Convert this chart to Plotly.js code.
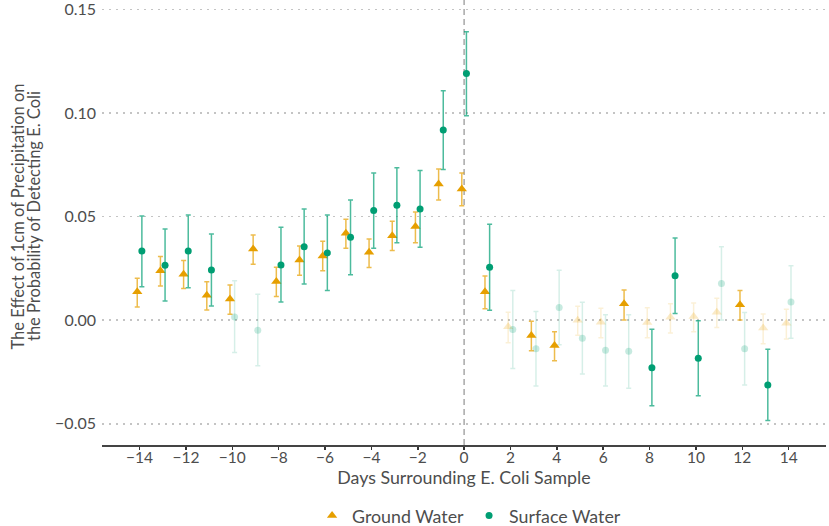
<!DOCTYPE html>
<html>
<head>
<meta charset="utf-8">
<script src="https://cdn.plot.ly/plotly-3.0.1.min.js"></script>
<style>
  html, body { margin: 0; padding: 0; background: #ffffff; }
  #chart { width: 829px; height: 526px; }
</style>
</head>
<body>
<div id="chart"></div>
<script>
// Days relative to the E. coli sample
const days = [-14,-13,-12,-11,-10,-9,-8,-7,-6,-5,-4,-3,-2,-1,0,1,2,3,4,5,6,7,8,9,10,11,12,13,14];

// Ground water estimates and 95% CI
const groundEst = [0.0138,0.0239,0.0222,0.0121,0.0103,0.0344,0.0187,0.0291,0.0310,0.0420,0.0328,0.0408,0.0452,0.0658,0.0633,0.0138,-0.0031,-0.0074,-0.0122,0.0000,-0.0010,0.0079,-0.0011,0.0014,0.0018,0.0039,0.0075,-0.0037,-0.0015];
const groundLo  = [0.0064,0.0165,0.0153,0.0050,0.0029,0.0270,0.0114,0.0217,0.0239,0.0347,0.0254,0.0336,0.0374,0.0580,0.0553,0.0056,-0.0108,-0.0147,-0.0196,-0.0072,-0.0084,0.0001,-0.0085,-0.0061,-0.0056,-0.0035,0.0001,-0.0113,-0.0090];
const groundHi  = [0.0203,0.0307,0.0288,0.0186,0.0170,0.0411,0.0256,0.0358,0.0381,0.0487,0.0392,0.0478,0.0522,0.0730,0.0711,0.0214,0.0039,-0.0005,-0.0055,0.0068,0.0058,0.0146,0.0060,0.0080,0.0083,0.0106,0.0143,0.0030,0.0053];
const groundSig = [1,1,1,1,1,1,1,1,1,1,1,1,1,1,1,1,0,1,1,0,0,1,0,0,0,0,1,0,0];

// Surface water estimates and 95% CI
const surfaceEst = [0.0334,0.0265,0.0334,0.0243,0.0016,-0.0048,0.0267,0.0355,0.0325,0.0400,0.0529,0.0555,0.0537,0.0918,0.1191,0.0256,-0.0045,-0.0138,0.0061,-0.0087,-0.0145,-0.0150,-0.0229,0.0215,-0.0183,0.0177,-0.0138,-0.0312,0.0088];
const surfaceLo  = [0.0162,0.0093,0.0157,0.0069,-0.0156,-0.0219,0.0088,0.0175,0.0143,0.0220,0.0347,0.0374,0.0352,0.0728,0.0987,0.0048,-0.0233,-0.0317,-0.0118,-0.0259,-0.0317,-0.0328,-0.0413,0.0032,-0.0364,0.0001,-0.0312,-0.0484,-0.0087];
const surfaceHi  = [0.0503,0.0440,0.0508,0.0416,0.0190,0.0125,0.0449,0.0537,0.0508,0.0580,0.0711,0.0736,0.0722,0.1108,0.1392,0.0463,0.0143,0.0042,0.0241,0.0087,0.0027,0.0027,-0.0044,0.0397,-0.0003,0.0355,0.0037,-0.0140,0.0263];
const surfaceSig = [1,1,1,1,0,0,1,1,1,1,1,1,1,1,1,1,0,0,0,0,0,0,1,1,1,0,0,1,0];

const seriesNames = ['Ground Water', 'Surface Water'];
const xTicks = [-14,-12,-10,-8,-6,-4,-2,0,2,4,6,8,10,12,14];
const yTicks = [-0.05, 0, 0.05, 0.10, 0.15];
const yTickText = ['−0.05', '0.00', '0.05', '0.10', '0.15'];
const xTitle = 'Days Surrounding E. Coli Sample';
const yTitleLines = ['The Effect of 1cm of Precipitation on', 'the Probability of Detecting E. Coli'];

const FONT = 'Lato, "Open Sans", sans-serif';
const TXT = '#4d4d4d';

function subset(sig, want, est, lo, hi, shift) {
  const x = [], y = [], plus = [], minus = [];
  for (let i = 0; i < days.length; i++) {
    if (sig[i] === want) {
      x.push(days[i] + shift);
      y.push(est[i]);
      plus.push(hi[i] - est[i]);
      minus.push(est[i] - lo[i]);
    }
  }
  return {x, y, plus, minus};
}

function makeTrace(name, sig, want, est, lo, hi, shift, rgb, symbol, size, showlegend) {
  const s = subset(sig, want, est, lo, hi, shift);
  const ptAlpha = want ? 1 : 0.22;
  const barAlpha = want ? 0.7 : 0.16;
  return {
    type: 'scatter', mode: 'markers', name: name,
    x: s.x, y: s.y,
    showlegend: showlegend, legendgroup: name,
    marker: { symbol: symbol, size: size, color: 'rgba(' + rgb + ',' + ptAlpha + ')', line: { width: 0 } },
    error_y: { type: 'data', symmetric: false, array: s.plus, arrayminus: s.minus,
               color: 'rgba(' + rgb + ',' + barAlpha + ')', thickness: 1.5, width: 2.5 },
    hoverinfo: 'x+y'
  };
}

const GROUND_RGB = '230,159,0';
const SURFACE_RGB = '0,158,115';

const traces = [
  makeTrace(seriesNames[0], groundSig, 0, groundEst, groundLo, groundHi, -0.1, GROUND_RGB, 'triangle-up', 9, false),
  makeTrace(seriesNames[1], surfaceSig, 0, surfaceEst, surfaceLo, surfaceHi, 0.1, SURFACE_RGB, 'circle', 7, false),
  makeTrace(seriesNames[0], groundSig, 1, groundEst, groundLo, groundHi, -0.1, GROUND_RGB, 'triangle-up', 9, true),
  makeTrace(seriesNames[1], surfaceSig, 1, surfaceEst, surfaceLo, surfaceHi, 0.1, SURFACE_RGB, 'circle', 7, true)
];

const layout = {
  width: 829, height: 526,
  margin: { l: 102, r: 3, t: 4, b: 81, autoexpand: false },
  paper_bgcolor: '#ffffff', plot_bgcolor: '#ffffff',
  font: { family: FONT, size: 16, color: TXT },
  showlegend: true,
  legend: { orientation: 'h', xref: 'paper', x: 0.507, xanchor: 'center',
            yref: 'container', y: 0.019, yanchor: 'middle',
            font: { family: FONT, size: 17.8, color: TXT }, traceorder: 'normal' },
  xaxis: {
    range: [-15.62, 15.61],
    tickmode: 'array', tickvals: xTicks,
    ticks: 'outside', ticklen: 3, tickwidth: 1.5, tickcolor: '#333333',
    showline: true, linecolor: '#444444', linewidth: 1.5,
    showgrid: false, zeroline: false,
    ticklabelstandoff: -5,
    tickfont: { family: FONT, size: 15.5, color: TXT },
    title: { text: xTitle, font: { family: FONT, size: 17.8, color: TXT }, standoff: 3 }
  },
  yaxis: {
    range: [-0.0602, 0.1526],
    tickmode: 'array', tickvals: yTicks, ticktext: yTickText,
    ticks: '', showline: false, zeroline: false,
    ticklabeloverflow: 'allow', ticklabelstandoff: 5,
    showgrid: true, gridcolor: '#c4c4c4', gridwidth: 1.5, griddash: '2px,5px',
    tickfont: { family: FONT, size: 16, color: TXT }
  },
  annotations: [
    { text: yTitleLines[0], xref: 'paper', yref: 'paper', x: 0, y: 0.5, xanchor: 'center', yanchor: 'middle',
      xshift: -85, yshift: 8, textangle: -90, showarrow: false, font: { family: FONT, size: 16.5, color: TXT } },
    { text: yTitleLines[1], xref: 'paper', yref: 'paper', x: 0, y: 0.5, xanchor: 'center', yanchor: 'middle',
      xshift: -68.5, yshift: 8, textangle: -90, showarrow: false, font: { family: FONT, size: 16.5, color: TXT } }
  ],
  shapes: [{
    type: 'line', xref: 'x', yref: 'paper', x0: 0, x1: 0, y0: 0, y1: 1.01,
    line: { color: '#a8a8a8', width: 1.5, dash: '6px,4px' }, layer: 'below'
  }]
};

Plotly.newPlot('chart', traces, layout, { displayModeBar: false, staticPlot: true });
</script>
</body>
</html>
